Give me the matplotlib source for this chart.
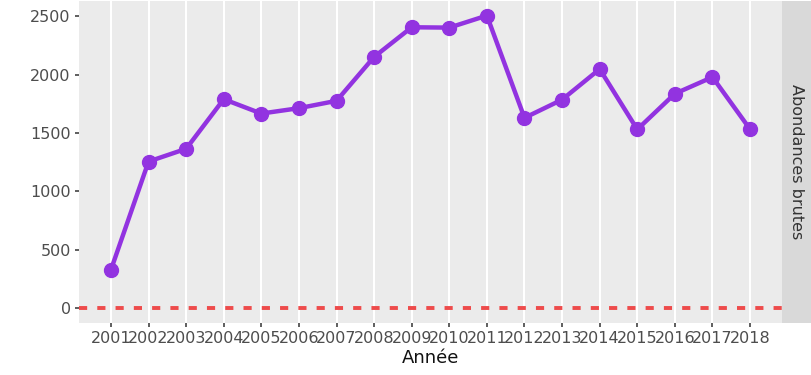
import matplotlib
matplotlib.use("Agg")
import matplotlib.pyplot as plt

years = list(range(2001, 2019))
abondances = [328, 1255, 1364, 1789, 1666, 1712, 1775, 2151, 2405, 2402,
              2505, 1629, 1785, 2047, 1530, 1836, 1978, 1532]
y_ticks = [0, 500, 1000, 1500, 2000, 2500]
strip_label = "Abondances brutes"
x_label = "Année"

W, H, DPI = 811, 375, 100
fig = plt.figure(figsize=(W / DPI, H / DPI), dpi=DPI)
fig.patch.set_facecolor("white")

left, right, top, bottom = 79, 782, 1, 323
ax = fig.add_axes([left / W, 1 - bottom / H, (right - left) / W, (bottom - top) / H])
ax.set_facecolor("#EBEBEB")
for s in ax.spines.values():
    s.set_visible(False)

ax.set_xlim(2001 - 0.85, 2018 + 0.85)
ax.set_ylim(-128, 2630)
ax.set_xticks(years)
ax.set_xticklabels([str(y) for y in years])
ax.set_yticks(y_ticks)
ax.grid(axis="x", color="white", linewidth=1.5)
ax.grid(axis="y", visible=False)
ax.set_axisbelow(True)
ax.tick_params(axis="both", colors="#333333", length=3, width=1.1,
               labelsize=11.5, labelcolor="#4D4D4D", pad=3)

ax.axhline(0, color="#EE4B4B", linewidth=2.8, dashes=(2.1, 2.6))
ax.plot(years, abondances, color="#9233E0", linewidth=3.2,
        marker="o", markersize=10, solid_capstyle="round")

ax.set_xlabel(x_label, fontsize=13, color="#111111", labelpad=2)

# facet strip on the right
sax = fig.add_axes([right / W, 1 - bottom / H, (W - right) / W, (bottom - top) / H])
sax.set_facecolor("#D9D9D9")
sax.set_xticks([])
sax.set_yticks([])
for s in sax.spines.values():
    s.set_visible(False)
sax.text(0.5, 0.5, strip_label, rotation=-90, ha="center", va="center",
         fontsize=11.5, color="#333333", transform=sax.transAxes)

fig.savefig("out.png", dpi=DPI)
